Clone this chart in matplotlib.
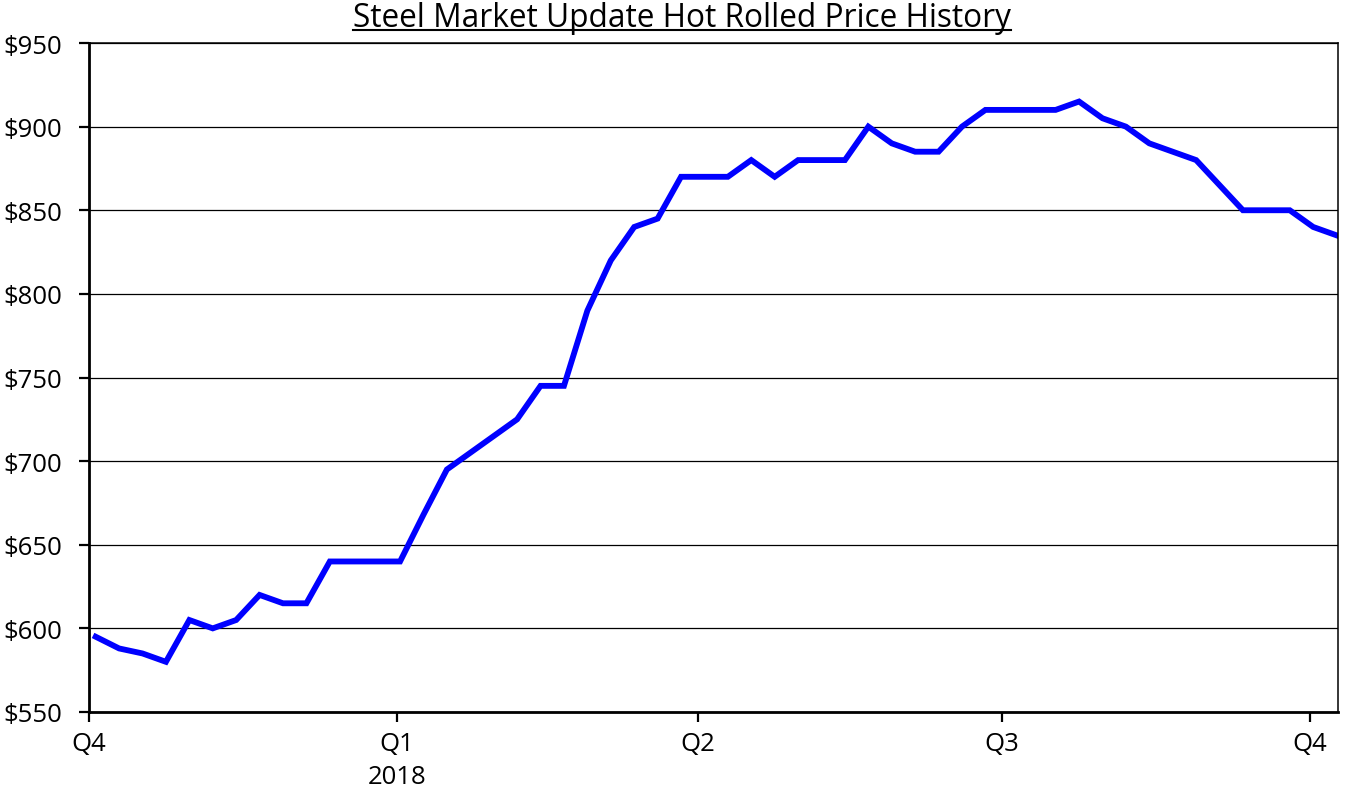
import matplotlib
matplotlib.use("Agg")
import matplotlib.pyplot as plt
from matplotlib.lines import Line2D
from matplotlib.ticker import FuncFormatter, NullLocator
import pandas as pd
from datetime import datetime

plt.rcParams['font.family'] = ['Open Sans', 'DejaVu Sans']

# weekly hot rolled price, $/ton
start_date = "2017-10-03"
prices = [595, 588, 585, 580, 605, 600, 605, 620, 615, 615,
          640, 640, 640, 640, 668, 695, 705, 715, 725, 745,
          745, 790, 820, 840, 845, 870, 870, 870, 880, 870,
          880, 880, 880, 900, 890, 885, 885, 900, 910, 910,
          910, 910, 915, 905, 900, 890, 885, 880, 865, 850,
          850, 850, 840, 835]
dates = pd.date_range(start_date, periods=len(prices), freq="7D")

quarter_ticks = [datetime(2017, 10, 1), datetime(2018, 1, 1), datetime(2018, 4, 1),
                 datetime(2018, 7, 1), datetime(2018, 10, 1)]
quarter_labels = ["Q4", "Q1\n2018", "Q2", "Q3", "Q4"]
y_ticks = [550, 600, 650, 700, 750, 800, 850, 900, 950]
title = "Steel Market Update Hot Rolled Price History"

W, H = 1348, 804
fig = plt.figure(figsize=(W / 100, H / 100), dpi=100)
ax = fig.add_axes([89 / W, 1 - 713 / H, (1338 - 89) / W, (713 - 44) / H])

ax.plot(dates, prices, color="#0000ff", lw=4.2, solid_joinstyle="miter")

ax.set_xlim(datetime(2017, 10, 1), datetime(2018, 10, 9, 10))
ax.set_ylim(550, 950)
ax.set_yticks(y_ticks)
ax.yaxis.set_major_formatter(FuncFormatter(lambda v, p: f"${v:.0f}"))
ax.set_xticks(quarter_ticks)
ax.set_xticklabels(quarter_labels, linespacing=1.4, va="top")
ax.xaxis.set_minor_locator(NullLocator())
ax.yaxis.set_minor_locator(NullLocator())

ax.grid(axis="y", color="black", lw=0.9)
ax.set_axisbelow(True)
ax.tick_params(axis="both", direction="out", length=7, width=1.6, labelsize=18.5, colors="black")
ax.tick_params(axis="x", pad=7)
ax.tick_params(axis="y", pad=12)

for side in ["left", "bottom"]:
    ax.spines[side].set_linewidth(2.0)
for side in ["right", "top"]:
    ax.spines[side].set_linewidth(1.1)

# title with underline
t = fig.text(682 / W, 1 - 27 / H, title, ha="center", va="baseline", fontsize=22.8)
fig.canvas.draw()
bb = t.get_window_extent(renderer=fig.canvas.get_renderer())
uy = (H - 31) / H
fig.add_artist(Line2D([bb.x0 / W, bb.x1 / W], [uy, uy], color="black", lw=1.5,
                      transform=fig.transFigure))

fig.savefig("out.png", dpi=100)
